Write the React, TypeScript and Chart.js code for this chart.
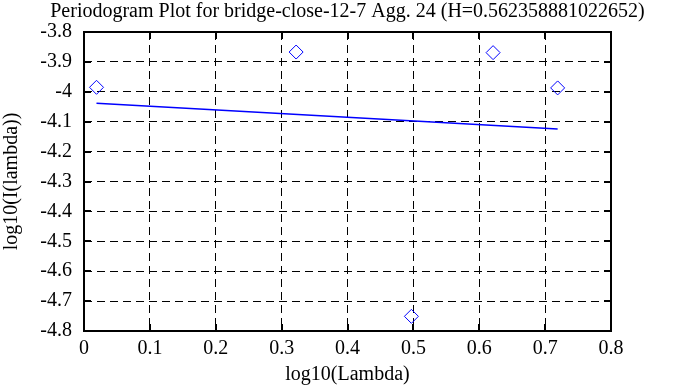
import React, { useEffect, useRef } from "react";
import { Chart, registerables } from "chart.js";

Chart.register(...registerables);

const TITLE = "Periodogram Plot for bridge-close-12-7 Agg. 24 (H=0.562358881022652)";
const X_LABEL = "log10(Lambda)";
const Y_LABEL = "log10(I(lambda))";

const pointX = [0.019, 0.322, 0.497, 0.621, 0.719];
const pointY = [-3.985, -3.867, -4.751, -3.869, -3.987];

const fitX = [0.019, 0.719];
const fitY = [-4.0385, -4.1245];

const X_MIN = 0, X_MAX = 0.8, X_STEP = 0.1;
const Y_MIN = -4.8, Y_MAX = -3.8, Y_STEP = 0.1;

const FONT = "'Liberation Serif', 'Times New Roman', serif";

const framePlugin = {
  id: "frameTicks",
  afterDatasetsDraw(chart: any) {
    const { ctx, chartArea, scales } = chart;
    const { left, right, top, bottom } = chartArea;
    ctx.save();
    ctx.strokeStyle = "#000";
    ctx.lineWidth = 2;
    ctx.setLineDash([]);
    ctx.strokeRect(left, top, right - left, bottom - top);
    const t = 7;
    ctx.beginPath();
    scales.x.ticks.forEach((tk: any) => {
      const px = Math.round(scales.x.getPixelForValue(tk.value));
      ctx.moveTo(px, bottom);
      ctx.lineTo(px, bottom - t);
      ctx.moveTo(px, top);
      ctx.lineTo(px, top + t);
    });
    scales.y.ticks.forEach((tk: any) => {
      const py = Math.round(scales.y.getPixelForValue(tk.value));
      ctx.moveTo(left, py);
      ctx.lineTo(left + t, py);
      ctx.moveTo(right, py);
      ctx.lineTo(right - t, py);
    });
    ctx.stroke();
    // title centred on the whole canvas
    ctx.fillStyle = "#000";
    ctx.font = `20px ${FONT}`;
    ctx.textAlign = "center";
    ctx.textBaseline = "middle";
    ctx.fillText(TITLE, chart.width / 2, 12);
    ctx.restore();
  },
};

export default function App() {
  const ref = useRef<HTMLCanvasElement | null>(null);
  useEffect(() => {
    document.body.style.margin = "0";
    const canvas = ref.current;
    if (!canvas) return;
    const chart = new Chart(canvas, {
      type: "scatter",
      data: {
        datasets: [
          {
            label: "fit",
            type: "line",
            data: fitX.map((x, i) => ({ x, y: fitY[i] })),
            borderColor: "#0000ff",
            borderWidth: 1.5,
            pointRadius: 0,
            fill: false,
          } as any,
          {
            label: "points",
            data: pointX.map((x, i) => ({ x, y: pointY[i] })),
            pointStyle: "rectRot",
            pointRadius: 7,
            pointBorderWidth: 1,
            pointBorderColor: "#0000ff",
            pointBackgroundColor: "rgba(0,0,0,0)",
          },
        ],
      },
      options: {
        responsive: false,
        animation: false,
        devicePixelRatio: 1,
        layout: { padding: { top: 32, right: 84, bottom: 0, left: 0 } },
        plugins: {
          legend: { display: false },
          tooltip: { enabled: false },
          title: { display: false },
        },
        scales: {
          x: {
            type: "linear",
            min: X_MIN,
            max: X_MAX,
            afterFit: (s: any) => { s.height = 56; },
            ticks: {
              stepSize: X_STEP,
              color: "#000",
              padding: 6,
              font: { family: FONT, size: 20 },
              callback: (v: any) => String(Math.round(Number(v) * 10) / 10),
            },
            grid: { color: "#000", lineWidth: 1, drawTicks: false },
            border: { display: false, dash: [8, 5] },
            title: {
              display: true,
              text: X_LABEL,
              color: "#000",
              font: { family: FONT, size: 20 },
              padding: { top: 0, bottom: 0 },
            },
          },
          y: {
            type: "linear",
            min: Y_MIN,
            max: Y_MAX,
            afterFit: (s: any) => { s.width = 84; },
            ticks: {
              stepSize: Y_STEP,
              color: "#000",
              padding: 12,
              font: { family: FONT, size: 20 },
              callback: (v: any) => String(Math.round(Number(v) * 10) / 10),
            },
            grid: { color: "#000", lineWidth: 1, drawTicks: false },
            border: { display: false, dash: [8, 5] },
            title: {
              display: true,
              text: Y_LABEL,
              color: "#000",
              font: { family: FONT, size: 20 },
              padding: { top: 0, bottom: 0 },
            },
          },
        },
      },
      plugins: [framePlugin],
    } as any);
    return () => chart.destroy();
  }, []);
  return (
    <div style={{ width: 695, height: 387, background: "#fff" }}>
      <canvas ref={ref} width={695} height={387} style={{ display: "block" }} />
    </div>
  );
}
